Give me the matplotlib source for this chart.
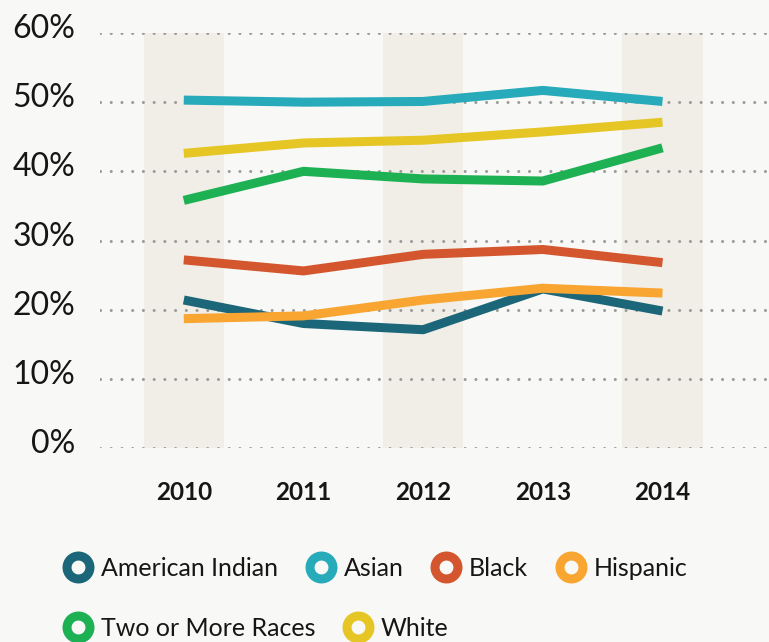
import matplotlib
matplotlib.use("Agg")
import matplotlib.pyplot as plt
import matplotlib.transforms as mtransforms
from matplotlib.lines import Line2D

plt.rcParams['font.family'] = ['Lato', 'DejaVu Sans']

years = ['2010', '2011', '2012', '2013', '2014']
groups = ['American Indian', 'Asian', 'Black', 'Hispanic', 'Two or More Races', 'White']
american_indian = [21.4, 18.0, 17.1, 23.0, 19.8]
asian = [50.3, 50.0, 50.1, 51.7, 50.1]
black = [27.2, 25.6, 28.0, 28.7, 26.8]
hispanic = [18.7, 19.1, 21.4, 23.1, 22.4]
two_or_more = [35.8, 40.0, 38.9, 38.6, 43.4]
white = [42.6, 44.1, 44.5, 45.7, 47.1]
series = [american_indian, asian, black, hispanic, two_or_more, white]
colors = ['#1b6679', '#27aab9', '#d4562e', '#f8a532', '#1db153', '#e5c624']
yticks = [0, 10, 20, 30, 40, 50, 60]

bg = '#f8f8f6'
ink = '#161616'
fig = plt.figure(figsize=(7.69, 6.42), dpi=100, facecolor=bg)
ax = fig.add_axes([100 / 769, 194 / 642, 669 / 769, 415 / 642], facecolor=bg)

x = list(range(len(years)))
# shaded bands behind every other year
for i in x[::2]:
    ax.axvspan(i - 0.335, i + 0.335, color='#f0eee6', zorder=0, lw=0)

for vals, c in zip(series, colors):
    ax.plot(x, vals, color=c, lw=6.5, solid_capstyle='butt', zorder=3)

ax.set_xlim(-0.70, 4.89)
ax.set_ylim(0, 60)
ax.set_yticks(yticks)
ax.set_yticklabels([f'{v}%' for v in yticks], fontsize=23, color=ink)
ax.set_xticks(x)
ax.set_xticklabels(years, fontsize=17.5, fontweight='bold', color=ink)
ax.tick_params(axis='both', length=0)
ax.tick_params(axis='y', pad=18)
ax.tick_params(axis='x', pad=24)

offset = mtransforms.ScaledTranslation(0, 7 / 100, fig.dpi_scale_trans)
for lab in ax.get_yticklabels():
    lab.set_transform(lab.get_transform() + offset)

ax.yaxis.grid(True, color='#9a9a9a', lw=2.2, linestyle=(0, (0.01, 3.5)),
              dash_capstyle='round')
ax.set_axisbelow(True)
for s in ax.spines.values():
    s.set_visible(False)

def handle(c):
    return Line2D([], [], marker='o', linestyle='none', markersize=16.5,
                  markeredgewidth=6.5, markeredgecolor=c, markerfacecolor=bg)

hs = [handle(c) for c in colors]
leg_kw = dict(frameon=False, prop={'size': 18}, handlelength=1.2,
              handletextpad=0.32, columnspacing=1.1, borderaxespad=0,
              borderpad=0, labelcolor=ink)
leg1 = fig.legend(hs[:4], groups[:4], ncol=4, loc='center left',
                  bbox_to_anchor=(63 / 769, 1 - 568 / 642), **leg_kw)
leg2 = fig.legend(hs[4:], groups[4:], ncol=2, loc='center left',
                  bbox_to_anchor=(63 / 769, 1 - 628 / 642), **leg_kw)

fig.savefig('out.png', dpi=100, facecolor=bg)
